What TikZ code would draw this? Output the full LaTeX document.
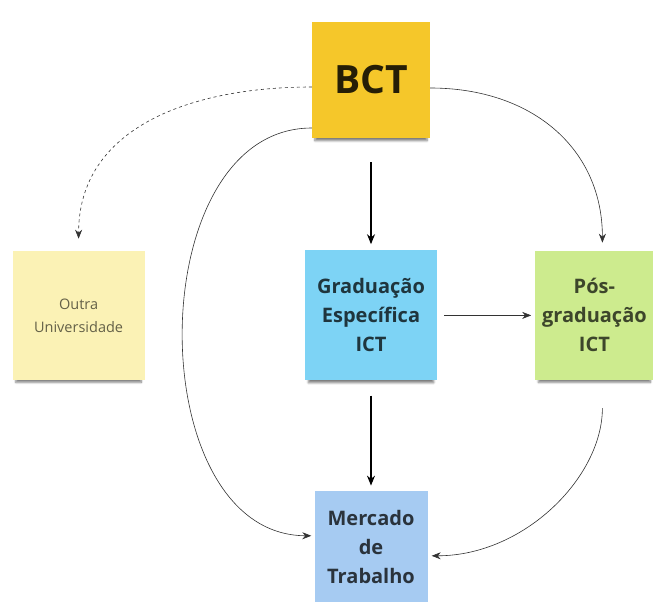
\documentclass[tikz,border=0pt]{standalone}
\usepackage{fontspec}
\setmainfont{Open Sans}
\usetikzlibrary{positioning,arrows.meta,shadows.blur}
\definecolor{bctnote}{HTML}{F5C72A}
\definecolor{outranote}{HTML}{FBF2B5}
\definecolor{gradnote}{HTML}{7DD3F5}
\definecolor{posnote}{HTML}{CDEB8E}
\definecolor{mercnote}{HTML}{A6CBF2}
\definecolor{linegray}{HTML}{333333}

\begin{document}
\begin{tikzpicture}[
  x=1pt,y=-1pt,
  note/.style={inner sep=2pt,align=center,
    blur shadow={shadow xshift=0pt,shadow yshift=-6pt,shadow scale=0.95,shadow blur steps=6,shadow opacity=50}},
  big/.style={font=\bfseries\fontsize{20}{29}\selectfont},
  arr/.style={-{Stealth[length=9pt,width=7pt]},semithick,linegray},
  arrthick/.style={-{Stealth[length=10pt,width=8pt]},very thick,black}
]
\useasboundingbox (0,0) rectangle (657,602);
\node[note,fill=bctnote,minimum width=118pt,minimum height=116pt,
  font=\bfseries\fontsize{39}{48}\selectfont,text=black!85!bctnote] (bct) at (371,80) {BCT};
\node[note,big,fill=gradnote,minimum width=132pt,minimum height=130pt,text=black!75!gradnote,
  below=112pt of bct] (grad) {Graduação\\Específica\\ICT};
\node[note,fill=outranote,minimum width=132pt,minimum height=129pt,text=black!60!outranote,
  font=\fontsize{14.5}{23}\selectfont,left=160pt of grad] (outra) {Outra\\Universidade};
\node[note,big,fill=posnote,minimum width=118pt,minimum height=129pt,text=black!70!posnote,
  right=98pt of grad] (pos) {Pós-\\graduação\\ICT};
\node[note,big,fill=mercnote,minimum width=113pt,minimum height=112pt,text=black!75!mercnote,
  below=110pt of grad] (merc) {Mercado\\de\\Trabalho};
% arrows
\draw[arr,dash pattern=on 3pt off 3pt,shorten >=12pt] ([yshift=-7pt]bct.west) to[out=180,in=90,looseness=1.1] (outra.north);
\draw[arr,shorten >=8pt] ([yshift=-8pt]bct.east) to[out=0,in=90,looseness=1.1] ([xshift=8pt]pos.north);
\draw[arrthick,shorten <=24pt,shorten >=6pt] (bct) -- (grad);
\draw[arr,shorten <=7pt,shorten >=4pt] (grad) -- (pos);
\draw[arrthick,shorten <=15pt,shorten >=5pt] (grad) -- (merc);
\draw[arr,shorten >=3pt] ([yshift=-48pt]bct.west) .. controls (140,128) and (140,535) .. ([yshift=11pt]merc.west);
\draw[arr,shorten <=28pt,shorten >=4pt] ([xshift=8pt]pos.south) to[out=-90,in=0] ([yshift=-9pt]merc.east);
\end{tikzpicture}
\end{document}
